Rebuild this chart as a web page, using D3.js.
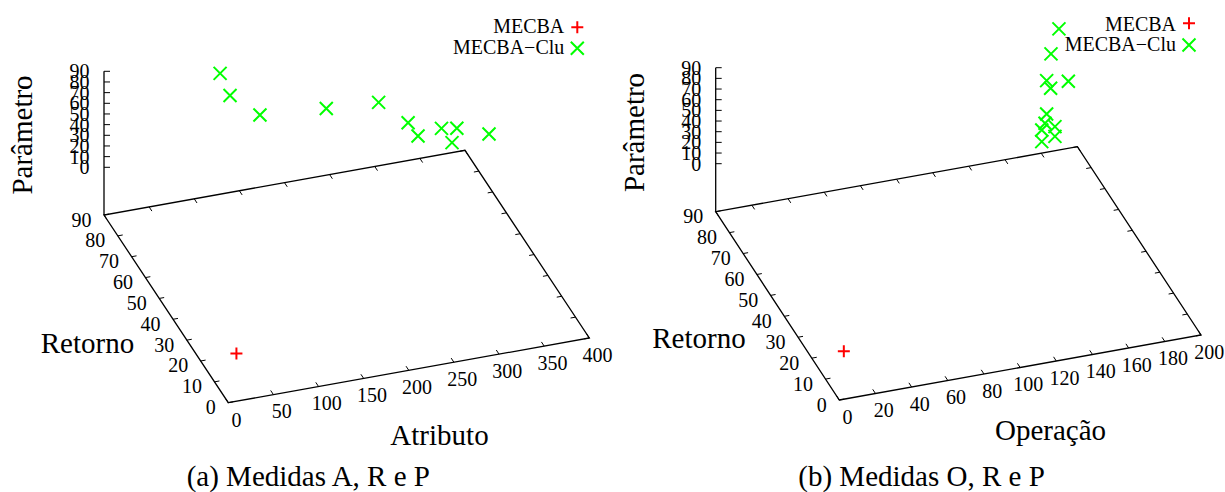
<!DOCTYPE html>
<html>
<head>
<meta charset="utf-8">
<script src="https://cdn.jsdelivr.net/npm/d3@7"></script>
<style>
  body { margin: 0; background: #fff; }
  svg { display: block; }
  text { font-family: "Liberation Serif", "Times New Roman", serif; fill: #000; }
</style>
</head>
<body>
<svg id="chart" width="1225" height="492"></svg>
<script>
// ---- Data: panel (a) Atributo / Retorno / Parâmetro ----
const atributoMECBA = [9];
const retornoMECBA_A = [0];
const parametroMECBA_A = [0];

const atributoClu = [121, 132, 157.5, 231, 289, 314, 325, 351, 368, 355, 396];
const retornoClu_A = [85, 85, 80, 80, 80, 75, 75, 75, 75, 70, 70];
const parametroClu_A = [79.5, 57, 44.7, 39.7, 36.6, 23.5, 9.4, 12.6, 10.1, 8.4, 10.2];

// ---- Data: panel (b) Operação / Retorno / Parâmetro ----
const operacaoMECBA = [2.5];
const retornoMECBA_B = [0];
const parametroMECBA_B = [0];

const operacaoClu = [186, 181.6, 179.2, 181.4, 191.2, 175.4, 174.5, 176.2, 168.9, 172.4, 165.1];
const retornoClu_B = [85, 85, 85, 85, 85, 80, 80, 75, 75, 70, 70];
const parametroClu_B = [79.5, 57.4, 33.1, 25.3, 28.8, 12.8, 4.4, 10.5, 9.6, 12.3, 9.6];

// ---- Tick values and labels ----
const atributoTicks = [0, 50, 100, 150, 200, 250, 300, 350, 400];
const operacaoTicks = [0, 20, 40, 60, 80, 100, 120, 140, 160, 180, 200];
const retornoTicks = [0, 10, 20, 30, 40, 50, 60, 70, 80, 90];
const parametroTicks = [0, 10, 20, 30, 40, 50, 60, 70, 80, 90];
const seriesNames = ["MECBA", "MECBA\u2212Clu"];

const svg = d3.select("#chart");
const RED = "#ff0000", GREEN = "#00ff00";

function unit(v) { const l = Math.hypot(v[0], v[1]); return [v[0] / l, v[1] / l]; }

function drawPanel(cfg) {
  const g = svg.append("g");
  const xMax = cfg.xTicks[cfg.xTicks.length - 1];
  const sx = d3.scaleLinear().domain([0, xMax]).range([0, 1]);
  const sy = d3.scaleLinear().domain([0, 90]).range([0, 1]);
  const sz = d3.scaleLinear().domain([0, 90]).range(cfg.lift);
  const O = cfg.O;
  const ex = [cfg.X[0] - O[0], cfg.X[1] - O[1]];
  const ey = [cfg.Y[0] - O[0], cfg.Y[1] - O[1]];
  const P = (x, y, z) => {
    const a = sx(x), b = sy(y), h = (z == null) ? 0 : sz(z);
    return [O[0] + a * ex[0] + b * ey[0], O[1] + a * ex[1] + b * ey[1] - h];
  };
  const ux = unit(ex), uy = unit(ey);
  const tl = 5;

  // base rectangle
  const corners = [P(0, 0), P(xMax, 0), P(xMax, 90), P(0, 90)];
  g.append("path")
    .attr("d", d3.line()(corners) + "Z")
    .attr("fill", "none").attr("stroke", "#000").attr("stroke-width", 1.3);
  // vertical z axis at the back-left corner
  const zb = P(0, 90), zt = P(0, 90, 90);
  g.append("line").attr("x1", zb[0]).attr("y1", zb[1]).attr("x2", zt[0]).attr("y2", zt[1])
    .attr("stroke", "#000").attr("stroke-width", 1.3);

  const tick = (p, d) => g.append("line")
    .attr("x1", p[0]).attr("y1", p[1]).attr("x2", p[0] + d[0] * tl).attr("y2", p[1] + d[1] * tl)
    .attr("stroke", "#000").attr("stroke-width", 1);

  // x ticks (front and mirrored on back)
  cfg.xTicks.forEach(v => {
    tick(P(v, 0), uy);
    tick(P(v, 90), [-uy[0], -uy[1]]);
  });
  // y ticks (left and mirrored on right)
  retornoTicks.forEach(v => {
    tick(P(0, v), ux);
    tick(P(xMax, v), [-ux[0], -ux[1]]);
  });
  // z ticks
  parametroTicks.forEach(v => tick(P(0, 90, v), [1.2, 0]));

  // tick labels
  g.selectAll(".xl").data(cfg.xTicks).join("text")
    .attr("x", d => P(d, 0)[0] + 8.2).attr("y", d => P(d, 0)[1] + 16.8)
    .attr("text-anchor", "middle").attr("dominant-baseline", "central")
    .attr("font-size", 20).text(d => d);
  g.selectAll(".yl").data(retornoTicks).join("text")
    .attr("x", d => P(0, d)[0] - 12.5).attr("y", d => P(0, d)[1] + 4.5)
    .attr("text-anchor", "end").attr("dominant-baseline", "central")
    .attr("font-size", 20).text(d => d);
  g.selectAll(".zl").data(parametroTicks).join("text")
    .attr("x", d => P(0, 90, d)[0] - 14.5).attr("y", d => P(0, 90, d)[1])
    .attr("text-anchor", "end").attr("dominant-baseline", "central")
    .attr("font-size", 20).text(d => d);

  // axis titles
  g.append("text").attr("transform", `translate(${cfg.zTitle[0]},${cfg.zTitle[1]}) rotate(-90)`)
    .attr("text-anchor", "middle").attr("dominant-baseline", "central")
    .attr("font-size", 29).text("Parâmetro");
  g.append("text").attr("x", cfg.yTitle[0]).attr("y", cfg.yTitle[1])
    .attr("text-anchor", "middle").attr("font-size", 29).text("Retorno");
  g.append("text").attr("x", cfg.xTitle[0]).attr("y", cfg.xTitle[1])
    .attr("text-anchor", "middle").attr("font-size", 29).text(cfg.xName);

  // caption
  g.append("text").attr("x", cfg.caption[0]).attr("y", cfg.caption[1])
    .attr("text-anchor", "start").attr("font-size", 29).text(cfg.captionText);

  // markers
  const plus = "M-6,0H6M0,-6V6";
  const cross = "M-6.5,-6.5L6.5,6.5M-6.5,6.5L6.5,-6.5";
  const red = cfg.mecba.x.map((x, i) => P(x, cfg.mecba.y[i], cfg.mecba.z[i]));
  const green = cfg.clu.x.map((x, i) => P(x, cfg.clu.y[i], cfg.clu.z[i]));
  g.selectAll(".m1").data(red).join("path")
    .attr("transform", d => `translate(${d[0]},${d[1]})`).attr("d", plus)
    .attr("stroke", RED).attr("stroke-width", 2).attr("fill", "none");
  g.selectAll(".m2").data(green).join("path")
    .attr("transform", d => `translate(${d[0]},${d[1]})`).attr("d", cross)
    .attr("stroke", GREEN).attr("stroke-width", 2).attr("fill", "none");

  // legend
  const L = cfg.legend;
  [plus, cross].forEach((shape, i) => {
    g.append("text").attr("x", L.textX).attr("y", L.base[i])
      .attr("text-anchor", "end").attr("font-size", 20).text(seriesNames[i]);
    g.append("path").attr("transform", `translate(${L.markX},${L.markY[i]})`).attr("d", shape)
      .attr("stroke", i === 0 ? RED : GREEN).attr("stroke-width", 2).attr("fill", "none");
  });
}

drawPanel({
  xTicks: atributoTicks, xName: "Atributo",
  O: [228.3, 402.7], X: [589.3, 338.0], Y: [104, 215], lift: [47.7, 143.7],
  zTitle: [22, 135], yTitle: [87.5, 353], xTitle: [439.5, 445],
  caption: [186.7, 486], captionText: "(a) Medidas A, R e P",
  legend: { textX: 564.3, markX: 577.3, base: [33.3, 53.5], markY: [27.3, 48.3] },
  mecba: { x: atributoMECBA, y: retornoMECBA_A, z: parametroMECBA_A },
  clu: { x: atributoClu, y: retornoClu_A, z: parametroClu_A }
});

drawPanel({
  xTicks: operacaoTicks, xName: "Operação",
  O: [839.3, 400], X: [1201, 335], Y: [715.7, 211.7], lift: [48, 144],
  zTitle: [634, 132.5], yTitle: [699, 348.3], xTitle: [1050.5, 440],
  caption: [798.3, 486], captionText: "(b) Medidas O, R e P",
  legend: { textX: 1176, markX: 1189, base: [30.7, 51], markY: [23.3, 45] },
  mecba: { x: operacaoMECBA, y: retornoMECBA_B, z: parametroMECBA_B },
  clu: { x: operacaoClu, y: retornoClu_B, z: parametroClu_B }
});
</script>
</body>
</html>
